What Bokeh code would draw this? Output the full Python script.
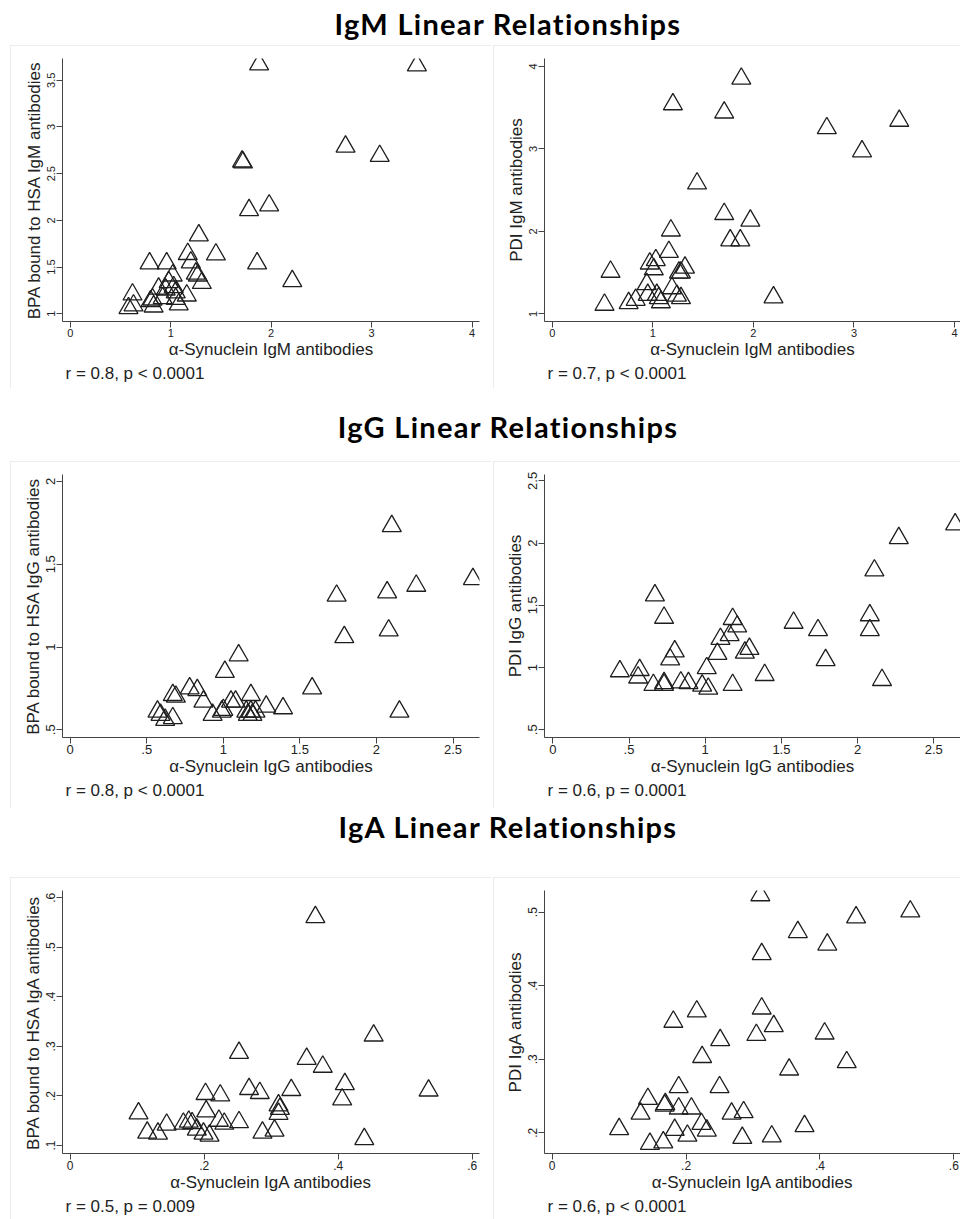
from bokeh.plotting import figure
from bokeh.layouts import column, row
from bokeh.models import Div, Range1d, FixedTicker, Title, Spacer
from bokeh.embed import file_html
from bokeh.resources import INLINE

# ---------------- data ----------------
section_titles = ["IgM Linear Relationships", "IgG Linear Relationships", "IgA Linear Relationships"]

igm_bpa_x = [1.88, 3.45, 2.74, 3.08, 1.71, 1.72, 1.98, 1.78, 1.28, 1.17, 1.45, 1.20, 0.79, 0.96, 1.86,
             1.02, 1.25, 1.27, 1.31, 2.21, 0.98, 1.03, 0.88, 0.95, 1.05, 1.16, 0.62, 0.82, 0.92, 1.05,
             0.80, 0.63, 0.58, 0.83, 1.08]
igm_bpa_y = [3.67, 3.66, 2.79, 2.69, 2.63, 2.62, 2.16, 2.11, 1.84, 1.64, 1.635, 1.55, 1.54, 1.54, 1.54,
             1.41, 1.43, 1.41, 1.33, 1.35, 1.34, 1.285, 1.27, 1.26, 1.23, 1.196, 1.207, 1.153, 1.167, 1.16,
             1.135, 1.089, 1.06, 1.078, 1.10]

igm_pdi_x = [1.88, 1.20, 1.71, 3.45, 2.73, 3.08, 1.44, 1.71, 1.97, 1.18, 1.77, 1.87, 1.16, 0.58, 2.20,
             0.52, 1.03, 0.97, 1.01, 1.32, 1.26, 1.28, 0.94, 1.19, 0.95, 1.04, 1.06, 1.24, 1.28, 0.83,
             0.76, 1.08]
igm_pdi_y = [3.85, 3.54, 3.44, 3.34, 3.25, 2.97, 2.58, 2.21, 2.13, 2.01, 1.89, 1.89, 1.75, 1.51, 1.20,
             1.11, 1.65, 1.61, 1.54, 1.56, 1.50, 1.50, 1.36, 1.31, 1.23, 1.23, 1.19, 1.22, 1.19, 1.17,
             1.13, 1.14]

igg_bpa_x = [2.10, 2.63, 2.26, 2.07, 1.74, 2.08, 1.79, 1.10, 1.01, 1.58, 2.15, 0.78, 0.83, 0.67, 0.69,
             0.87, 1.18, 1.05, 1.08, 1.28, 1.39, 0.57, 0.59, 0.62, 0.67, 0.93, 0.99, 1.00, 1.15, 1.18,
             1.21, 1.16, 1.19]
igg_bpa_y = [1.73, 1.41, 1.37, 1.33, 1.31, 1.10, 1.06, 0.95, 0.85, 0.75, 0.61, 0.75, 0.74, 0.71, 0.70,
             0.67, 0.71, 0.67, 0.67, 0.64, 0.63, 0.61, 0.59, 0.56, 0.57, 0.59, 0.61, 0.62, 0.61, 0.61,
             0.61, 0.59, 0.59]

igg_pdi_x = [2.64, 2.27, 2.11, 2.08, 2.08, 0.67, 0.73, 1.58, 1.74, 1.79, 2.16, 1.39, 0.44, 0.57, 0.56,
             0.66, 0.73, 0.73, 0.84, 0.89, 1.01, 0.98, 1.02, 1.18, 0.80, 0.77, 1.08, 1.10, 1.16, 1.18,
             1.21, 1.29, 1.26]
igg_pdi_y = [2.15, 2.04, 1.78, 1.42, 1.30, 1.58, 1.40, 1.36, 1.30, 1.06, 0.90, 0.94, 0.97, 0.98, 0.92,
             0.86, 0.875, 0.86, 0.88, 0.875, 0.995, 0.855, 0.83, 0.86, 1.13, 1.065, 1.11, 1.23, 1.26, 1.39,
             1.33, 1.15, 1.12]

iga_bpa_x = [0.366, 0.453, 0.252, 0.353, 0.377, 0.410, 0.406, 0.535, 0.439, 0.102, 0.202, 0.224, 0.267,
             0.283, 0.330, 0.203, 0.311, 0.313, 0.311, 0.252, 0.222, 0.230, 0.144, 0.169, 0.177, 0.182,
             0.189, 0.199, 0.208, 0.115, 0.131, 0.287, 0.305]
iga_bpa_y = [0.561, 0.322, 0.287, 0.275, 0.259, 0.224, 0.193, 0.211, 0.113, 0.165, 0.204, 0.201, 0.214,
             0.206, 0.212, 0.169, 0.181, 0.174, 0.164, 0.147, 0.150, 0.144, 0.142, 0.144, 0.148, 0.145,
             0.132, 0.124, 0.120, 0.126, 0.124, 0.126, 0.130]

iga_pdi_x = [0.311, 0.535, 0.454, 0.367, 0.411, 0.313, 0.216, 0.313, 0.181, 0.331, 0.305, 0.407, 0.251,
             0.224, 0.440, 0.354, 0.189, 0.250, 0.143, 0.169, 0.168, 0.132, 0.189, 0.208, 0.268, 0.286,
             0.377, 0.100, 0.223, 0.231, 0.183, 0.202, 0.284, 0.328, 0.146, 0.166]
iga_pdi_y = [0.523, 0.501, 0.493, 0.473, 0.456, 0.443, 0.365, 0.369, 0.351, 0.345, 0.333, 0.335, 0.326,
             0.303, 0.296, 0.286, 0.262, 0.262, 0.246, 0.239, 0.237, 0.226, 0.233, 0.233, 0.226, 0.228,
             0.209, 0.205, 0.212, 0.203, 0.204, 0.196, 0.193, 0.195, 0.185, 0.187]

x_labels = ["\u03b1-Synuclein IgM antibodies", "\u03b1-Synuclein IgG antibodies", "\u03b1-Synuclein IgA antibodies"]
y_labels_bpa = ["BPA bound to HSA IgM antibodies", "BPA bound to HSA IgG antibodies", "BPA bound to HSA IgA antibodies"]
y_labels_pdi = ["PDI IgM antibodies", "PDI IgG antibodies", "PDI IgA antibodies"]
stats_bpa = ["r = 0.8, p < 0.0001", "r = 0.8, p < 0.0001", "r = 0.5, p = 0.009"]
stats_pdi = ["r = 0.7, p < 0.0001", "r = 0.6, p = 0.0001", "r = 0.6, p < 0.0001"]

igm_x_ticks = [0, 1, 2, 3, 4]
igm_x_tick_labels = ["0", "1", "2", "3", "4"]
igm_bpa_y_ticks = [1, 1.5, 2, 2.5, 3, 3.5]
igm_bpa_y_tick_labels = ["1", "1.5", "2", "2.5", "3", "3.5"]
igm_pdi_y_ticks = [1, 2, 3, 4]
igm_pdi_y_tick_labels = ["1", "2", "3", "4"]
igg_x_ticks = [0, 0.5, 1, 1.5, 2, 2.5]
igg_x_tick_labels = ["0", ".5", "1", "1.5", "2", "2.5"]
igg_bpa_y_ticks = [0.5, 1, 1.5, 2]
igg_bpa_y_tick_labels = [".5", "1", "1.5", "2"]
igg_pdi_y_ticks = [0.5, 1, 1.5, 2, 2.5]
igg_pdi_y_tick_labels = [".5", "1", "1.5", "2", "2.5"]
iga_x_ticks = [0, 0.2, 0.4, 0.6]
iga_x_tick_labels = ["0", ".2", ".4", ".6"]
iga_bpa_y_ticks = [0.1, 0.2, 0.3, 0.4, 0.5, 0.6]
iga_bpa_y_tick_labels = [".1", ".2", ".3", ".4", ".5", ".6"]
iga_pdi_y_ticks = [0.2, 0.3, 0.4, 0.5]
iga_pdi_y_tick_labels = [".2", ".3", ".4", ".5"]

FONT = "Liberation Sans"
AXC = "#444444"


def panel(xs, ys, xr, yr, xt, xtl, yt, ytl, xlabel, ylabel, stat, width, height,
          mb, tick_fs):
    p = figure(width=width, height=height, output_backend="svg", toolbar_location=None,
               x_range=Range1d(*xr), y_range=Range1d(*yr),
               min_border_left=mb[0], min_border_right=mb[1],
               min_border_top=mb[2], min_border_bottom=mb[3],
               background_fill_color="white", border_fill_color="white",
               outline_line_color=None,
               styles={"outline": "1px solid #e6e6e6", "outline-offset": "-1px"})
    p.grid.visible = False
    p.scatter(xs, ys, marker="triangle", size=19, fill_color=None,
              line_color="#1e1e1e", line_width=1.3)
    for ax, ticks, labels in ((p.xaxis[0], xt, xtl), (p.yaxis[0], yt, ytl)):
        ax.ticker = FixedTicker(ticks=ticks)
        ax.major_label_overrides = {float(t): l for t, l in zip(ticks, labels)}
        ax.minor_tick_line_color = None
        ax.major_tick_out = 6
        ax.major_tick_in = 0
        ax.axis_line_color = AXC
        ax.major_tick_line_color = AXC
        ax.major_label_text_font = FONT
        ax.major_label_text_font_size = f"{tick_fs}px"
        ax.major_label_text_color = "#222222"
        ax.axis_label_text_font = FONT
        ax.axis_label_text_font_size = "17px"
        ax.axis_label_text_font_style = "normal"
        ax.axis_label_text_color = "#222222"
    p.xaxis[0].axis_label = xlabel
    p.yaxis[0].axis_label = ylabel
    p.xaxis[0].major_label_standoff = 1
    p.xaxis[0].axis_label_standoff = 0
    p.yaxis[0].major_label_orientation = "vertical"
    p.yaxis[0].major_label_standoff = 1
    p.yaxis[0].axis_label_standoff = 1
    p.add_layout(Title(text=stat, align="left", offset=3, standoff=0,
                       text_font=FONT, text_font_size="17px", text_font_style="normal",
                       text_color="#222222"), "below")
    return p


f1 = panel(igm_bpa_x, igm_bpa_y, (-0.0766, 4.073), (0.9176, 3.733),
           igm_x_ticks, igm_x_tick_labels, igm_bpa_y_ticks, igm_bpa_y_tick_labels,
           x_labels[0], y_labels_bpa[0], stats_bpa[0], 481, 343, (52, 12, 13, 67), 11)
f2 = panel(igm_pdi_x, igm_pdi_y, (-0.0765, 4.059), (0.907, 4.095),
           igm_x_ticks, igm_x_tick_labels, igm_pdi_y_ticks, igm_pdi_y_tick_labels,
           x_labels[0], y_labels_pdi[0], stats_pdi[0], 467, 343, (51, 0, 12, 67), 11)
f3 = panel(igg_bpa_x, igg_bpa_y, (-0.0503, 2.673), (0.4535, 2.042),
           igg_x_ticks, igg_x_tick_labels, igg_bpa_y_ticks, igg_bpa_y_tick_labels,
           x_labels[1], y_labels_bpa[1], stats_bpa[1], 481, 347, (52, 12, 13, 71), 13)
f4 = panel(igg_pdi_x, igg_pdi_y, (-0.0545, 2.675), (0.438, 2.551),
           igg_x_ticks, igg_x_tick_labels, igg_pdi_y_ticks, igg_pdi_y_tick_labels,
           x_labels[1], y_labels_pdi[1], stats_pdi[1], 467, 347, (51, 0, 13, 71), 13)
f5 = panel(iga_bpa_x, iga_bpa_y, (-0.0115, 0.611), (0.0839, 0.6147),
           iga_x_ticks, iga_x_tick_labels, iga_bpa_y_ticks, iga_bpa_y_tick_labels,
           x_labels[2], y_labels_bpa[2], stats_bpa[2], 481, 342, (52, 12, 13, 66), 12)
f6 = panel(iga_pdi_x, iga_pdi_y, (-0.0115, 0.610), (0.1718, 0.5295),
           iga_x_ticks, iga_x_tick_labels, iga_pdi_y_ticks, iga_pdi_y_tick_labels,
           x_labels[2], y_labels_pdi[2], stats_pdi[2], 467, 342, (51, 0, 13, 66), 12)


def title_div(text, height, pad_top):
    inner = ('<div style="box-sizing:border-box;width:960px;text-align:center;'
             f'padding-left:56px;padding-top:{pad_top}px;line-height:34px;'
             'font-family:Lato;font-weight:bold;font-size:29px;letter-spacing:1.3px;'
             f'color:#000000;">{text}</div>')
    return Div(text=inner, width=960, height=height, margin=0, styles={"overflow": "hidden"})


def panel_row(fl, fr):
    return row(Spacer(width=10, height=fl.height), fl, Spacer(width=2, height=fl.height), fr,
               spacing=0)


layout = column(
    title_div(section_titles[0], 45, 7),
    panel_row(f1, f2),
    title_div(section_titles[1], 73, 22),
    panel_row(f3, f4),
    title_div(section_titles[2], 69, 2),
    panel_row(f5, f6),
    spacing=0,
)

open("out.html", "w").write(file_html(layout, INLINE))
